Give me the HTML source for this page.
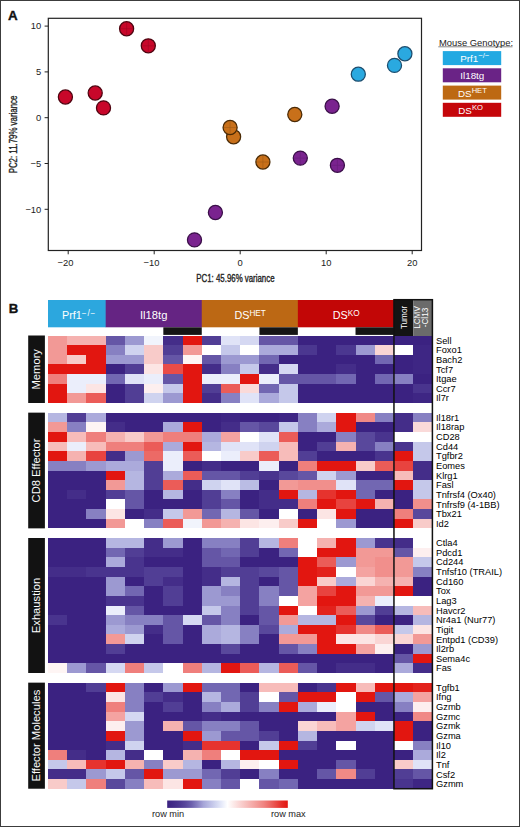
<!DOCTYPE html><html><head><meta charset="utf-8"><style>
html,body{margin:0;padding:0;background:#fff;}
svg{display:block;font-family:"Liberation Sans",sans-serif;}
</style></head><body>
<svg width="520" height="827" viewBox="0 0 520 827">
<rect x="0" y="0" width="520" height="827" fill="#fff"/>
<text x="8.1" y="19.7" font-size="13.4" font-weight="bold" fill="#111" stroke="#111" stroke-width="0.35">A</text>
<rect x="48.3" y="18.3" width="373.2" height="232.2" fill="none" stroke="#222" stroke-width="1.2"/>
<line x1="44.6" y1="26.10" x2="48.3" y2="26.10" stroke="#222" stroke-width="1"/>
<text x="41.3" y="29.40" font-size="9.4" text-anchor="end" fill="#222">10</text>
<line x1="44.6" y1="71.90" x2="48.3" y2="71.90" stroke="#222" stroke-width="1"/>
<text x="41.3" y="75.20" font-size="9.4" text-anchor="end" fill="#222">5</text>
<line x1="44.6" y1="117.70" x2="48.3" y2="117.70" stroke="#222" stroke-width="1"/>
<text x="41.3" y="121.00" font-size="9.4" text-anchor="end" fill="#222">0</text>
<line x1="44.6" y1="163.50" x2="48.3" y2="163.50" stroke="#222" stroke-width="1"/>
<text x="41.3" y="166.80" font-size="9.4" text-anchor="end" fill="#222">−5</text>
<line x1="44.6" y1="209.30" x2="48.3" y2="209.30" stroke="#222" stroke-width="1"/>
<text x="41.3" y="212.60" font-size="9.4" text-anchor="end" fill="#222">−10</text>
<line x1="68.20" y1="250.5" x2="68.20" y2="254.3" stroke="#222" stroke-width="1"/>
<text x="68.20" y="265.8" font-size="9.4" text-anchor="middle" fill="#222">20</text>
<text x="63.10" y="265.8" font-size="9.4" text-anchor="end" fill="#222">−</text>
<line x1="154.20" y1="250.5" x2="154.20" y2="254.3" stroke="#222" stroke-width="1"/>
<text x="154.20" y="265.8" font-size="9.4" text-anchor="middle" fill="#222">10</text>
<text x="149.10" y="265.8" font-size="9.4" text-anchor="end" fill="#222">−</text>
<line x1="240.20" y1="250.5" x2="240.20" y2="254.3" stroke="#222" stroke-width="1"/>
<text x="240.20" y="265.8" font-size="9.4" text-anchor="middle" fill="#222">0</text>
<line x1="326.20" y1="250.5" x2="326.20" y2="254.3" stroke="#222" stroke-width="1"/>
<text x="326.20" y="265.8" font-size="9.4" text-anchor="middle" fill="#222">10</text>
<line x1="412.20" y1="250.5" x2="412.20" y2="254.3" stroke="#222" stroke-width="1"/>
<text x="412.20" y="265.8" font-size="9.4" text-anchor="middle" fill="#222">20</text>
<text transform="translate(235.4,281.6) scale(0.75,1)" font-size="10.5" text-anchor="middle" fill="#222" stroke="#222" stroke-width="0.35">PC1: 45.96% variance</text>
<text transform="translate(16.9,134.5) rotate(-90) scale(0.75,1)" font-size="10.5" text-anchor="middle" fill="#222" stroke="#222" stroke-width="0.35">PC2: 11.79% variance</text>
<circle cx="404.9" cy="53.7" r="7.05" fill="#2aa9e0" stroke="#1c4d6e" stroke-width="1.25"/>
<circle cx="394.5" cy="65.4" r="7.05" fill="#2aa9e0" stroke="#1c4d6e" stroke-width="1.25"/>
<circle cx="358.3" cy="74.2" r="7.05" fill="#2aa9e0" stroke="#1c4d6e" stroke-width="1.25"/>
<circle cx="126.6" cy="28.7" r="7.05" fill="#c8072a" stroke="#4e0410" stroke-width="1.25"/>
<path d="M120.1 28.7H133.1M126.6 22.2V35.2" stroke="#4e0410" stroke-width="0.6" opacity="0.3"/>
<circle cx="148.3" cy="45.8" r="7.05" fill="#c8072a" stroke="#4e0410" stroke-width="1.25"/>
<path d="M141.8 45.8H154.8M148.3 39.3V52.3" stroke="#4e0410" stroke-width="0.6" opacity="0.3"/>
<circle cx="65.4" cy="97.0" r="7.05" fill="#c8072a" stroke="#4e0410" stroke-width="1.25"/>
<circle cx="95.2" cy="93.0" r="7.05" fill="#c8072a" stroke="#4e0410" stroke-width="1.25"/>
<circle cx="103.5" cy="107.9" r="7.05" fill="#c8072a" stroke="#4e0410" stroke-width="1.25"/>
<circle cx="294.8" cy="114.5" r="7.05" fill="#c8701a" stroke="#4a2a05" stroke-width="1.25"/>
<circle cx="233.6" cy="136.8" r="7.05" fill="#c8701a" stroke="#4a2a05" stroke-width="1.25"/>
<circle cx="230.1" cy="127.5" r="7.05" fill="#c8701a" stroke="#4a2a05" stroke-width="1.25"/>
<path d="M223.6 127.5H236.6M230.1 121.0V134.0" stroke="#4a2a05" stroke-width="0.6" opacity="0.3"/>
<circle cx="262.9" cy="162.0" r="7.05" fill="#c8701a" stroke="#4a2a05" stroke-width="1.25"/>
<path d="M256.4 162.0H269.4M262.9 155.5V168.5" stroke="#4a2a05" stroke-width="0.6" opacity="0.3"/>
<circle cx="332.1" cy="106.25" r="7.05" fill="#7a238f" stroke="#3a0f48" stroke-width="1.25"/>
<circle cx="300.3" cy="158.1" r="7.05" fill="#7a238f" stroke="#3a0f48" stroke-width="1.25"/>
<path d="M293.8 158.1H306.8M300.3 151.6V164.6" stroke="#3a0f48" stroke-width="0.6" opacity="0.3"/>
<circle cx="337.4" cy="165.3" r="7.05" fill="#7a238f" stroke="#3a0f48" stroke-width="1.25"/>
<path d="M330.9 165.3H343.9M337.4 158.8V171.8" stroke="#3a0f48" stroke-width="0.6" opacity="0.3"/>
<circle cx="215.4" cy="212.5" r="7.05" fill="#7a238f" stroke="#3a0f48" stroke-width="1.25"/>
<circle cx="194.5" cy="239.9" r="7.05" fill="#7a238f" stroke="#3a0f48" stroke-width="1.25"/>
<text x="439.0" y="45.6" font-size="9.4" fill="#222">Mouse Genotype:</text>
<line x1="438.3" y1="46.8" x2="512.5" y2="46.8" stroke="#333" stroke-width="0.6"/>
<rect x="442.8" y="51.1" width="58.4" height="14.0" fill="#22a9e2"/>
<text x="460.3" y="62.40" font-size="9.8" fill="#fff">Prf1<tspan font-size="7.6" dy="-4.0">−/−</tspan></text>
<rect x="442.8" y="68.3" width="58.4" height="14.0" fill="#6a2386"/>
<text x="460.3" y="79.30" font-size="9.8" fill="#fff">Il18tg</text>
<rect x="442.8" y="85.6" width="58.4" height="14.0" fill="#bd6913"/>
<text x="458.0" y="96.90" font-size="9.8" fill="#fff">DS<tspan font-size="7.6" dy="-4.0">HET</tspan></text>
<rect x="442.8" y="102.8" width="58.4" height="14.0" fill="#c5060a"/>
<text x="458.3" y="114.10" font-size="9.8" fill="#fff">DS<tspan font-size="7.6" dy="-4.0">KO</tspan></text>
<text x="8.7" y="312.5" font-size="13.2" font-weight="bold" fill="#111" stroke="#111" stroke-width="0.35">B</text>
<rect x="48.00" y="300" width="57.96" height="27.3" fill="#2ca7de"/>
<text x="79.03" y="319.4" font-size="10.8" text-anchor="middle" fill="#fff">Prf1<tspan font-size="8.2" dy="-3.6" letter-spacing="0.8">−/−</tspan></text>
<rect x="105.66" y="300" width="96.40" height="27.3" fill="#652483"/>
<text x="153.71" y="318.8" font-size="11.2" text-anchor="middle" fill="#fff">Il18tg</text>
<rect x="201.76" y="300" width="96.40" height="27.3" fill="#bc6814"/>
<text x="250.11" y="319.4" font-size="10.8" text-anchor="middle" fill="#fff">DS<tspan font-size="8.2" dy="-3.6" letter-spacing="0">HET</tspan></text>
<rect x="297.86" y="300" width="96.40" height="27.3" fill="#c20606"/>
<text x="346.21" y="319.4" font-size="10.8" text-anchor="middle" fill="#fff">DS<tspan font-size="8.2" dy="-3.6" letter-spacing="0">KO</tspan></text>
<rect x="163.32" y="327.3" width="38.44" height="7.6" fill="#151515"/>
<rect x="259.42" y="327.3" width="38.44" height="7.6" fill="#151515"/>
<rect x="355.52" y="327.3" width="38.44" height="7.6" fill="#151515"/>
<rect x="393.96" y="299.5" width="19.22" height="36.5" fill="#141414"/>
<rect x="413.18" y="299.5" width="19.22" height="36.5" fill="#6b6b6b"/>
<text transform="translate(406.97,317.5) rotate(-90) scale(0.85,1)" font-size="9.6" text-anchor="middle" fill="#fff">Tumor</text>
<text transform="translate(419.98,317.5) rotate(-90) scale(0.85,1)" font-size="9.6" text-anchor="middle" fill="#fff">LCMV</text>
<text transform="translate(428.48,317.5) rotate(-90) scale(0.85,1)" font-size="9.6" text-anchor="middle" fill="#fff">-Cl13</text>
<g shape-rendering="crispEdges">
<rect x="48.00" y="335.50" width="19.62" height="10.04" fill="#f29996"/>
<rect x="67.22" y="335.50" width="19.62" height="10.04" fill="#f5b2b0"/>
<rect x="86.44" y="335.50" width="19.62" height="10.04" fill="#f5b2b0"/>
<rect x="105.66" y="335.50" width="19.62" height="10.04" fill="#6556a6"/>
<rect x="124.88" y="335.50" width="19.62" height="10.04" fill="#9c99d1"/>
<rect x="144.10" y="335.50" width="19.62" height="10.04" fill="#f1f4fc"/>
<rect x="163.32" y="335.50" width="19.62" height="10.04" fill="#442d89"/>
<rect x="182.54" y="335.50" width="19.62" height="10.04" fill="#e21610"/>
<rect x="201.76" y="335.50" width="19.62" height="10.04" fill="#513e95"/>
<rect x="220.98" y="335.50" width="19.62" height="10.04" fill="#e0e3f7"/>
<rect x="240.20" y="335.50" width="19.62" height="10.04" fill="#d5d8f2"/>
<rect x="259.42" y="335.50" width="19.62" height="10.04" fill="#6556a6"/>
<rect x="278.64" y="335.50" width="19.62" height="10.04" fill="#6556a6"/>
<rect x="297.86" y="335.50" width="19.62" height="10.04" fill="#3b2281"/>
<rect x="317.08" y="335.50" width="19.62" height="10.04" fill="#3b2281"/>
<rect x="336.30" y="335.50" width="19.62" height="10.04" fill="#3b2281"/>
<rect x="355.52" y="335.50" width="19.62" height="10.04" fill="#3b2281"/>
<rect x="374.74" y="335.50" width="19.62" height="10.04" fill="#3b2281"/>
<rect x="393.96" y="335.50" width="19.62" height="10.04" fill="#3b2281"/>
<rect x="413.18" y="335.50" width="19.22" height="10.04" fill="#3b2281"/>
<rect x="48.00" y="345.14" width="19.62" height="10.04" fill="#f29996"/>
<rect x="67.22" y="345.14" width="19.62" height="10.04" fill="#e21610"/>
<rect x="86.44" y="345.14" width="19.62" height="10.04" fill="#e21610"/>
<rect x="105.66" y="345.14" width="19.62" height="10.04" fill="#8780c2"/>
<rect x="124.88" y="345.14" width="19.62" height="10.04" fill="#cfd3ef"/>
<rect x="144.10" y="345.14" width="19.62" height="10.04" fill="#f8cbc9"/>
<rect x="163.32" y="345.14" width="19.62" height="10.04" fill="#513e95"/>
<rect x="182.54" y="345.14" width="19.62" height="10.04" fill="#f29996"/>
<rect x="201.76" y="345.14" width="19.62" height="10.04" fill="#ffffff"/>
<rect x="220.98" y="345.14" width="19.62" height="10.04" fill="#c5c8ea"/>
<rect x="240.20" y="345.14" width="19.62" height="10.04" fill="#ffffff"/>
<rect x="259.42" y="345.14" width="19.62" height="10.04" fill="#abaadb"/>
<rect x="278.64" y="345.14" width="19.62" height="10.04" fill="#abaadb"/>
<rect x="297.86" y="345.14" width="19.62" height="10.04" fill="#4b3790"/>
<rect x="317.08" y="345.14" width="19.62" height="10.04" fill="#3b2281"/>
<rect x="336.30" y="345.14" width="19.62" height="10.04" fill="#4b3790"/>
<rect x="355.52" y="345.14" width="19.62" height="10.04" fill="#9c99d1"/>
<rect x="374.74" y="345.14" width="19.62" height="10.04" fill="#fad5d4"/>
<rect x="393.96" y="345.14" width="19.62" height="10.04" fill="#ffffff"/>
<rect x="413.18" y="345.14" width="19.22" height="10.04" fill="#3e2684"/>
<rect x="48.00" y="354.79" width="19.62" height="10.04" fill="#f29996"/>
<rect x="67.22" y="354.79" width="19.62" height="10.04" fill="#f8cbc9"/>
<rect x="86.44" y="354.79" width="19.62" height="10.04" fill="#e21610"/>
<rect x="105.66" y="354.79" width="19.62" height="10.04" fill="#9c99d1"/>
<rect x="124.88" y="354.79" width="19.62" height="10.04" fill="#9c99d1"/>
<rect x="144.10" y="354.79" width="19.62" height="10.04" fill="#f8cbc9"/>
<rect x="163.32" y="354.79" width="19.62" height="10.04" fill="#6556a6"/>
<rect x="182.54" y="354.79" width="19.62" height="10.04" fill="#fef5f4"/>
<rect x="201.76" y="354.79" width="19.62" height="10.04" fill="#6556a6"/>
<rect x="220.98" y="354.79" width="19.62" height="10.04" fill="#9c99d1"/>
<rect x="240.20" y="354.79" width="19.62" height="10.04" fill="#9c99d1"/>
<rect x="259.42" y="354.79" width="19.62" height="10.04" fill="#7267b2"/>
<rect x="278.64" y="354.79" width="19.62" height="10.04" fill="#3b2281"/>
<rect x="297.86" y="354.79" width="19.62" height="10.04" fill="#3b2281"/>
<rect x="317.08" y="354.79" width="19.62" height="10.04" fill="#3b2281"/>
<rect x="336.30" y="354.79" width="19.62" height="10.04" fill="#3b2281"/>
<rect x="355.52" y="354.79" width="19.62" height="10.04" fill="#3b2281"/>
<rect x="374.74" y="354.79" width="19.62" height="10.04" fill="#7267b2"/>
<rect x="393.96" y="354.79" width="19.62" height="10.04" fill="#3b2281"/>
<rect x="413.18" y="354.79" width="19.22" height="10.04" fill="#3e2684"/>
<rect x="48.00" y="364.43" width="19.62" height="10.04" fill="#e21610"/>
<rect x="67.22" y="364.43" width="19.62" height="10.04" fill="#e21610"/>
<rect x="86.44" y="364.43" width="19.62" height="10.04" fill="#e21610"/>
<rect x="105.66" y="364.43" width="19.62" height="10.04" fill="#3b2281"/>
<rect x="124.88" y="364.43" width="19.62" height="10.04" fill="#513e95"/>
<rect x="144.10" y="364.43" width="19.62" height="10.04" fill="#fce5e4"/>
<rect x="163.32" y="364.43" width="19.62" height="10.04" fill="#e94c47"/>
<rect x="182.54" y="364.43" width="19.62" height="10.04" fill="#e21610"/>
<rect x="201.76" y="364.43" width="19.62" height="10.04" fill="#442d89"/>
<rect x="220.98" y="364.43" width="19.62" height="10.04" fill="#8780c2"/>
<rect x="240.20" y="364.43" width="19.62" height="10.04" fill="#c5c8ea"/>
<rect x="259.42" y="364.43" width="19.62" height="10.04" fill="#442d89"/>
<rect x="278.64" y="364.43" width="19.62" height="10.04" fill="#d5d8f2"/>
<rect x="297.86" y="364.43" width="19.62" height="10.04" fill="#3b2281"/>
<rect x="317.08" y="364.43" width="19.62" height="10.04" fill="#3b2281"/>
<rect x="336.30" y="364.43" width="19.62" height="10.04" fill="#442d89"/>
<rect x="355.52" y="364.43" width="19.62" height="10.04" fill="#3b2281"/>
<rect x="374.74" y="364.43" width="19.62" height="10.04" fill="#3b2281"/>
<rect x="393.96" y="364.43" width="19.62" height="10.04" fill="#3b2281"/>
<rect x="413.18" y="364.43" width="19.22" height="10.04" fill="#3e2684"/>
<rect x="48.00" y="374.07" width="19.62" height="10.04" fill="#ef7f7c"/>
<rect x="67.22" y="374.07" width="19.62" height="10.04" fill="#ebeefb"/>
<rect x="86.44" y="374.07" width="19.62" height="10.04" fill="#ebeefb"/>
<rect x="105.66" y="374.07" width="19.62" height="10.04" fill="#7267b2"/>
<rect x="124.88" y="374.07" width="19.62" height="10.04" fill="#e0e3f7"/>
<rect x="144.10" y="374.07" width="19.62" height="10.04" fill="#ebeefb"/>
<rect x="163.32" y="374.07" width="19.62" height="10.04" fill="#6556a6"/>
<rect x="182.54" y="374.07" width="19.62" height="10.04" fill="#e21610"/>
<rect x="201.76" y="374.07" width="19.62" height="10.04" fill="#ebeefb"/>
<rect x="220.98" y="374.07" width="19.62" height="10.04" fill="#ebeefb"/>
<rect x="240.20" y="374.07" width="19.62" height="10.04" fill="#e21610"/>
<rect x="259.42" y="374.07" width="19.62" height="10.04" fill="#ebeefb"/>
<rect x="278.64" y="374.07" width="19.62" height="10.04" fill="#6556a6"/>
<rect x="297.86" y="374.07" width="19.62" height="10.04" fill="#6556a6"/>
<rect x="317.08" y="374.07" width="19.62" height="10.04" fill="#6556a6"/>
<rect x="336.30" y="374.07" width="19.62" height="10.04" fill="#7267b2"/>
<rect x="355.52" y="374.07" width="19.62" height="10.04" fill="#3b2281"/>
<rect x="374.74" y="374.07" width="19.62" height="10.04" fill="#7267b2"/>
<rect x="393.96" y="374.07" width="19.62" height="10.04" fill="#8780c2"/>
<rect x="413.18" y="374.07" width="19.22" height="10.04" fill="#3b2281"/>
<rect x="48.00" y="383.72" width="19.62" height="10.04" fill="#e21610"/>
<rect x="67.22" y="383.72" width="19.62" height="10.04" fill="#ebeefb"/>
<rect x="86.44" y="383.72" width="19.62" height="10.04" fill="#fce5e4"/>
<rect x="105.66" y="383.72" width="19.62" height="10.04" fill="#3b2281"/>
<rect x="124.88" y="383.72" width="19.62" height="10.04" fill="#513e95"/>
<rect x="144.10" y="383.72" width="19.62" height="10.04" fill="#fdefef"/>
<rect x="163.32" y="383.72" width="19.62" height="10.04" fill="#c5c8ea"/>
<rect x="182.54" y="383.72" width="19.62" height="10.04" fill="#e21610"/>
<rect x="201.76" y="383.72" width="19.62" height="10.04" fill="#513e95"/>
<rect x="220.98" y="383.72" width="19.62" height="10.04" fill="#eb5c58"/>
<rect x="240.20" y="383.72" width="19.62" height="10.04" fill="#fadad9"/>
<rect x="259.42" y="383.72" width="19.62" height="10.04" fill="#7267b2"/>
<rect x="278.64" y="383.72" width="19.62" height="10.04" fill="#c5c8ea"/>
<rect x="297.86" y="383.72" width="19.62" height="10.04" fill="#3b2281"/>
<rect x="317.08" y="383.72" width="19.62" height="10.04" fill="#3b2281"/>
<rect x="336.30" y="383.72" width="19.62" height="10.04" fill="#3b2281"/>
<rect x="355.52" y="383.72" width="19.62" height="10.04" fill="#3b2281"/>
<rect x="374.74" y="383.72" width="19.62" height="10.04" fill="#3b2281"/>
<rect x="393.96" y="383.72" width="19.62" height="10.04" fill="#3b2281"/>
<rect x="413.18" y="383.72" width="19.22" height="10.04" fill="#49348e"/>
<rect x="48.00" y="393.36" width="19.62" height="9.64" fill="#e21610"/>
<rect x="67.22" y="393.36" width="19.62" height="9.64" fill="#f29996"/>
<rect x="86.44" y="393.36" width="19.62" height="9.64" fill="#eb5c58"/>
<rect x="105.66" y="393.36" width="19.62" height="9.64" fill="#3b2281"/>
<rect x="124.88" y="393.36" width="19.62" height="9.64" fill="#513e95"/>
<rect x="144.10" y="393.36" width="19.62" height="9.64" fill="#cfd3ef"/>
<rect x="163.32" y="393.36" width="19.62" height="9.64" fill="#9c99d1"/>
<rect x="182.54" y="393.36" width="19.62" height="9.64" fill="#e21610"/>
<rect x="201.76" y="393.36" width="19.62" height="9.64" fill="#442d89"/>
<rect x="220.98" y="393.36" width="19.62" height="9.64" fill="#8780c2"/>
<rect x="240.20" y="393.36" width="19.62" height="9.64" fill="#e0e3f7"/>
<rect x="259.42" y="393.36" width="19.62" height="9.64" fill="#abaadb"/>
<rect x="278.64" y="393.36" width="19.62" height="9.64" fill="#c5c8ea"/>
<rect x="297.86" y="393.36" width="19.62" height="9.64" fill="#3b2281"/>
<rect x="317.08" y="393.36" width="19.62" height="9.64" fill="#3b2281"/>
<rect x="336.30" y="393.36" width="19.62" height="9.64" fill="#3b2281"/>
<rect x="355.52" y="393.36" width="19.62" height="9.64" fill="#3b2281"/>
<rect x="374.74" y="393.36" width="19.62" height="9.64" fill="#3b2281"/>
<rect x="393.96" y="393.36" width="19.62" height="9.64" fill="#3b2281"/>
<rect x="413.18" y="393.36" width="19.22" height="9.64" fill="#3e2684"/>
<rect x="48.00" y="412.64" width="19.62" height="10.04" fill="#b5b6e1"/>
<rect x="67.22" y="412.64" width="19.62" height="10.04" fill="#513e95"/>
<rect x="86.44" y="412.64" width="19.62" height="10.04" fill="#abaadb"/>
<rect x="105.66" y="412.64" width="19.62" height="10.04" fill="#3b2281"/>
<rect x="124.88" y="412.64" width="19.62" height="10.04" fill="#3b2281"/>
<rect x="144.10" y="412.64" width="19.62" height="10.04" fill="#3b2281"/>
<rect x="163.32" y="412.64" width="19.62" height="10.04" fill="#3b2281"/>
<rect x="182.54" y="412.64" width="19.62" height="10.04" fill="#3b2281"/>
<rect x="201.76" y="412.64" width="19.62" height="10.04" fill="#3b2281"/>
<rect x="220.98" y="412.64" width="19.62" height="10.04" fill="#3e2684"/>
<rect x="240.20" y="412.64" width="19.62" height="10.04" fill="#3b2281"/>
<rect x="259.42" y="412.64" width="19.62" height="10.04" fill="#3b2281"/>
<rect x="278.64" y="412.64" width="19.62" height="10.04" fill="#3e2684"/>
<rect x="297.86" y="412.64" width="19.62" height="10.04" fill="#8780c2"/>
<rect x="317.08" y="412.64" width="19.62" height="10.04" fill="#cfd3ef"/>
<rect x="336.30" y="412.64" width="19.62" height="10.04" fill="#e21610"/>
<rect x="355.52" y="412.64" width="19.62" height="10.04" fill="#f08986"/>
<rect x="374.74" y="412.64" width="19.62" height="10.04" fill="#8780c2"/>
<rect x="393.96" y="412.64" width="19.62" height="10.04" fill="#442d89"/>
<rect x="413.18" y="412.64" width="19.22" height="10.04" fill="#8780c2"/>
<rect x="48.00" y="422.29" width="19.62" height="10.04" fill="#f29996"/>
<rect x="67.22" y="422.29" width="19.62" height="10.04" fill="#8780c2"/>
<rect x="86.44" y="422.29" width="19.62" height="10.04" fill="#fef5f4"/>
<rect x="105.66" y="422.29" width="19.62" height="10.04" fill="#442d89"/>
<rect x="124.88" y="422.29" width="19.62" height="10.04" fill="#3b2281"/>
<rect x="144.10" y="422.29" width="19.62" height="10.04" fill="#3b2281"/>
<rect x="163.32" y="422.29" width="19.62" height="10.04" fill="#abaadb"/>
<rect x="182.54" y="422.29" width="19.62" height="10.04" fill="#e21610"/>
<rect x="201.76" y="422.29" width="19.62" height="10.04" fill="#3b2281"/>
<rect x="220.98" y="422.29" width="19.62" height="10.04" fill="#442d89"/>
<rect x="240.20" y="422.29" width="19.62" height="10.04" fill="#6556a6"/>
<rect x="259.42" y="422.29" width="19.62" height="10.04" fill="#59489c"/>
<rect x="278.64" y="422.29" width="19.62" height="10.04" fill="#c5c8ea"/>
<rect x="297.86" y="422.29" width="19.62" height="10.04" fill="#8780c2"/>
<rect x="317.08" y="422.29" width="19.62" height="10.04" fill="#abaadb"/>
<rect x="336.30" y="422.29" width="19.62" height="10.04" fill="#e21610"/>
<rect x="355.52" y="422.29" width="19.62" height="10.04" fill="#3b2281"/>
<rect x="374.74" y="422.29" width="19.62" height="10.04" fill="#3b2281"/>
<rect x="393.96" y="422.29" width="19.62" height="10.04" fill="#442d89"/>
<rect x="413.18" y="422.29" width="19.22" height="10.04" fill="#fadad9"/>
<rect x="48.00" y="431.93" width="19.62" height="10.04" fill="#e21610"/>
<rect x="67.22" y="431.93" width="19.62" height="10.04" fill="#f7bcba"/>
<rect x="86.44" y="431.93" width="19.62" height="10.04" fill="#ef7f7c"/>
<rect x="105.66" y="431.93" width="19.62" height="10.04" fill="#f5b2b0"/>
<rect x="124.88" y="431.93" width="19.62" height="10.04" fill="#f8cbc9"/>
<rect x="144.10" y="431.93" width="19.62" height="10.04" fill="#f29996"/>
<rect x="163.32" y="431.93" width="19.62" height="10.04" fill="#ef7f7c"/>
<rect x="182.54" y="431.93" width="19.62" height="10.04" fill="#ef7f7c"/>
<rect x="201.76" y="431.93" width="19.62" height="10.04" fill="#abaadb"/>
<rect x="220.98" y="431.93" width="19.62" height="10.04" fill="#f4a3a1"/>
<rect x="240.20" y="431.93" width="19.62" height="10.04" fill="#ffffff"/>
<rect x="259.42" y="431.93" width="19.62" height="10.04" fill="#e0e3f7"/>
<rect x="278.64" y="431.93" width="19.62" height="10.04" fill="#eb5c58"/>
<rect x="297.86" y="431.93" width="19.62" height="10.04" fill="#3b2281"/>
<rect x="317.08" y="431.93" width="19.62" height="10.04" fill="#3b2281"/>
<rect x="336.30" y="431.93" width="19.62" height="10.04" fill="#8780c2"/>
<rect x="355.52" y="431.93" width="19.62" height="10.04" fill="#59489c"/>
<rect x="374.74" y="431.93" width="19.62" height="10.04" fill="#49348e"/>
<rect x="393.96" y="431.93" width="19.62" height="10.04" fill="#ffffff"/>
<rect x="413.18" y="431.93" width="19.22" height="10.04" fill="#ffffff"/>
<rect x="48.00" y="441.57" width="19.62" height="10.04" fill="#f7bcba"/>
<rect x="67.22" y="441.57" width="19.62" height="10.04" fill="#ebeefb"/>
<rect x="86.44" y="441.57" width="19.62" height="10.04" fill="#f7bcba"/>
<rect x="105.66" y="441.57" width="19.62" height="10.04" fill="#ef7f7c"/>
<rect x="124.88" y="441.57" width="19.62" height="10.04" fill="#ef7f7c"/>
<rect x="144.10" y="441.57" width="19.62" height="10.04" fill="#eb5c58"/>
<rect x="163.32" y="441.57" width="19.62" height="10.04" fill="#abaadb"/>
<rect x="182.54" y="441.57" width="19.62" height="10.04" fill="#e21610"/>
<rect x="201.76" y="441.57" width="19.62" height="10.04" fill="#b5b6e1"/>
<rect x="220.98" y="441.57" width="19.62" height="10.04" fill="#e0e3f7"/>
<rect x="240.20" y="441.57" width="19.62" height="10.04" fill="#e0e3f7"/>
<rect x="259.42" y="441.57" width="19.62" height="10.04" fill="#cfd3ef"/>
<rect x="278.64" y="441.57" width="19.62" height="10.04" fill="#f7bcba"/>
<rect x="297.86" y="441.57" width="19.62" height="10.04" fill="#3b2281"/>
<rect x="317.08" y="441.57" width="19.62" height="10.04" fill="#513e95"/>
<rect x="336.30" y="441.57" width="19.62" height="10.04" fill="#f5b2b0"/>
<rect x="355.52" y="441.57" width="19.62" height="10.04" fill="#59489c"/>
<rect x="374.74" y="441.57" width="19.62" height="10.04" fill="#8780c2"/>
<rect x="393.96" y="441.57" width="19.62" height="10.04" fill="#49348e"/>
<rect x="413.18" y="441.57" width="19.22" height="10.04" fill="#c5c8ea"/>
<rect x="48.00" y="451.22" width="19.62" height="10.04" fill="#e21610"/>
<rect x="67.22" y="451.22" width="19.62" height="10.04" fill="#f5b2b0"/>
<rect x="86.44" y="451.22" width="19.62" height="10.04" fill="#e8433f"/>
<rect x="105.66" y="451.22" width="19.62" height="10.04" fill="#442d89"/>
<rect x="124.88" y="451.22" width="19.62" height="10.04" fill="#9c99d1"/>
<rect x="144.10" y="451.22" width="19.62" height="10.04" fill="#ec6a66"/>
<rect x="163.32" y="451.22" width="19.62" height="10.04" fill="#ebeefb"/>
<rect x="182.54" y="451.22" width="19.62" height="10.04" fill="#eb5c58"/>
<rect x="201.76" y="451.22" width="19.62" height="10.04" fill="#ffffff"/>
<rect x="220.98" y="451.22" width="19.62" height="10.04" fill="#ebeefb"/>
<rect x="240.20" y="451.22" width="19.62" height="10.04" fill="#f8cbc9"/>
<rect x="259.42" y="451.22" width="19.62" height="10.04" fill="#eb5c58"/>
<rect x="278.64" y="451.22" width="19.62" height="10.04" fill="#f7bcba"/>
<rect x="297.86" y="451.22" width="19.62" height="10.04" fill="#513e95"/>
<rect x="317.08" y="451.22" width="19.62" height="10.04" fill="#3b2281"/>
<rect x="336.30" y="451.22" width="19.62" height="10.04" fill="#3b2281"/>
<rect x="355.52" y="451.22" width="19.62" height="10.04" fill="#3b2281"/>
<rect x="374.74" y="451.22" width="19.62" height="10.04" fill="#49348e"/>
<rect x="393.96" y="451.22" width="19.62" height="10.04" fill="#e21610"/>
<rect x="413.18" y="451.22" width="19.22" height="10.04" fill="#c5c8ea"/>
<rect x="48.00" y="460.86" width="19.62" height="10.04" fill="#8780c2"/>
<rect x="67.22" y="460.86" width="19.62" height="10.04" fill="#8780c2"/>
<rect x="86.44" y="460.86" width="19.62" height="10.04" fill="#9c99d1"/>
<rect x="105.66" y="460.86" width="19.62" height="10.04" fill="#abaadb"/>
<rect x="124.88" y="460.86" width="19.62" height="10.04" fill="#abaadb"/>
<rect x="144.10" y="460.86" width="19.62" height="10.04" fill="#513e95"/>
<rect x="163.32" y="460.86" width="19.62" height="10.04" fill="#ebeefb"/>
<rect x="182.54" y="460.86" width="19.62" height="10.04" fill="#3b2281"/>
<rect x="201.76" y="460.86" width="19.62" height="10.04" fill="#442d89"/>
<rect x="220.98" y="460.86" width="19.62" height="10.04" fill="#3b2281"/>
<rect x="240.20" y="460.86" width="19.62" height="10.04" fill="#3b2281"/>
<rect x="259.42" y="460.86" width="19.62" height="10.04" fill="#ebeefb"/>
<rect x="278.64" y="460.86" width="19.62" height="10.04" fill="#3b2281"/>
<rect x="297.86" y="460.86" width="19.62" height="10.04" fill="#ef7f7c"/>
<rect x="317.08" y="460.86" width="19.62" height="10.04" fill="#e21610"/>
<rect x="336.30" y="460.86" width="19.62" height="10.04" fill="#e21610"/>
<rect x="355.52" y="460.86" width="19.62" height="10.04" fill="#f8cbc9"/>
<rect x="374.74" y="460.86" width="19.62" height="10.04" fill="#eb5c58"/>
<rect x="393.96" y="460.86" width="19.62" height="10.04" fill="#e8433f"/>
<rect x="413.18" y="460.86" width="19.22" height="10.04" fill="#442d89"/>
<rect x="48.00" y="470.50" width="19.62" height="10.04" fill="#3b2281"/>
<rect x="67.22" y="470.50" width="19.62" height="10.04" fill="#3b2281"/>
<rect x="86.44" y="470.50" width="19.62" height="10.04" fill="#3b2281"/>
<rect x="105.66" y="470.50" width="19.62" height="10.04" fill="#e21610"/>
<rect x="124.88" y="470.50" width="19.62" height="10.04" fill="#b5b6e1"/>
<rect x="144.10" y="470.50" width="19.62" height="10.04" fill="#513e95"/>
<rect x="163.32" y="470.50" width="19.62" height="10.04" fill="#abaadb"/>
<rect x="182.54" y="470.50" width="19.62" height="10.04" fill="#eb5c58"/>
<rect x="201.76" y="470.50" width="19.62" height="10.04" fill="#6556a6"/>
<rect x="220.98" y="470.50" width="19.62" height="10.04" fill="#6556a6"/>
<rect x="240.20" y="470.50" width="19.62" height="10.04" fill="#513e95"/>
<rect x="259.42" y="470.50" width="19.62" height="10.04" fill="#49348e"/>
<rect x="278.64" y="470.50" width="19.62" height="10.04" fill="#59489c"/>
<rect x="297.86" y="470.50" width="19.62" height="10.04" fill="#6556a6"/>
<rect x="317.08" y="470.50" width="19.62" height="10.04" fill="#cfd3ef"/>
<rect x="336.30" y="470.50" width="19.62" height="10.04" fill="#9c99d1"/>
<rect x="355.52" y="470.50" width="19.62" height="10.04" fill="#3b2281"/>
<rect x="374.74" y="470.50" width="19.62" height="10.04" fill="#3b2281"/>
<rect x="393.96" y="470.50" width="19.62" height="10.04" fill="#f7bcba"/>
<rect x="413.18" y="470.50" width="19.22" height="10.04" fill="#442d89"/>
<rect x="48.00" y="480.14" width="19.62" height="10.04" fill="#3b2281"/>
<rect x="67.22" y="480.14" width="19.62" height="10.04" fill="#3b2281"/>
<rect x="86.44" y="480.14" width="19.62" height="10.04" fill="#3b2281"/>
<rect x="105.66" y="480.14" width="19.62" height="10.04" fill="#f29996"/>
<rect x="124.88" y="480.14" width="19.62" height="10.04" fill="#b5b6e1"/>
<rect x="144.10" y="480.14" width="19.62" height="10.04" fill="#513e95"/>
<rect x="163.32" y="480.14" width="19.62" height="10.04" fill="#eb5c58"/>
<rect x="182.54" y="480.14" width="19.62" height="10.04" fill="#442d89"/>
<rect x="201.76" y="480.14" width="19.62" height="10.04" fill="#cfd3ef"/>
<rect x="220.98" y="480.14" width="19.62" height="10.04" fill="#e0e3f7"/>
<rect x="240.20" y="480.14" width="19.62" height="10.04" fill="#babce4"/>
<rect x="259.42" y="480.14" width="19.62" height="10.04" fill="#3b2281"/>
<rect x="278.64" y="480.14" width="19.62" height="10.04" fill="#f29996"/>
<rect x="297.86" y="480.14" width="19.62" height="10.04" fill="#f18f8c"/>
<rect x="317.08" y="480.14" width="19.62" height="10.04" fill="#f18f8c"/>
<rect x="336.30" y="480.14" width="19.62" height="10.04" fill="#e0e3f7"/>
<rect x="355.52" y="480.14" width="19.62" height="10.04" fill="#7267b2"/>
<rect x="374.74" y="480.14" width="19.62" height="10.04" fill="#7267b2"/>
<rect x="393.96" y="480.14" width="19.62" height="10.04" fill="#e21610"/>
<rect x="413.18" y="480.14" width="19.22" height="10.04" fill="#c5c8ea"/>
<rect x="48.00" y="489.79" width="19.62" height="10.04" fill="#3b2281"/>
<rect x="67.22" y="489.79" width="19.62" height="10.04" fill="#442d89"/>
<rect x="86.44" y="489.79" width="19.62" height="10.04" fill="#3b2281"/>
<rect x="105.66" y="489.79" width="19.62" height="10.04" fill="#513e95"/>
<rect x="124.88" y="489.79" width="19.62" height="10.04" fill="#6556a6"/>
<rect x="144.10" y="489.79" width="19.62" height="10.04" fill="#3b2281"/>
<rect x="163.32" y="489.79" width="19.62" height="10.04" fill="#b5b6e1"/>
<rect x="182.54" y="489.79" width="19.62" height="10.04" fill="#3b2281"/>
<rect x="201.76" y="489.79" width="19.62" height="10.04" fill="#513e95"/>
<rect x="220.98" y="489.79" width="19.62" height="10.04" fill="#8780c2"/>
<rect x="240.20" y="489.79" width="19.62" height="10.04" fill="#3b2281"/>
<rect x="259.42" y="489.79" width="19.62" height="10.04" fill="#442d89"/>
<rect x="278.64" y="489.79" width="19.62" height="10.04" fill="#e21610"/>
<rect x="297.86" y="489.79" width="19.62" height="10.04" fill="#b5b6e1"/>
<rect x="317.08" y="489.79" width="19.62" height="10.04" fill="#e6332e"/>
<rect x="336.30" y="489.79" width="19.62" height="10.04" fill="#e21610"/>
<rect x="355.52" y="489.79" width="19.62" height="10.04" fill="#7267b2"/>
<rect x="374.74" y="489.79" width="19.62" height="10.04" fill="#3b2281"/>
<rect x="393.96" y="489.79" width="19.62" height="10.04" fill="#3b2281"/>
<rect x="413.18" y="489.79" width="19.22" height="10.04" fill="#c5c8ea"/>
<rect x="48.00" y="499.43" width="19.62" height="10.04" fill="#3b2281"/>
<rect x="67.22" y="499.43" width="19.62" height="10.04" fill="#3b2281"/>
<rect x="86.44" y="499.43" width="19.62" height="10.04" fill="#3b2281"/>
<rect x="105.66" y="499.43" width="19.62" height="10.04" fill="#ffffff"/>
<rect x="124.88" y="499.43" width="19.62" height="10.04" fill="#6556a6"/>
<rect x="144.10" y="499.43" width="19.62" height="10.04" fill="#3b2281"/>
<rect x="163.32" y="499.43" width="19.62" height="10.04" fill="#3b2281"/>
<rect x="182.54" y="499.43" width="19.62" height="10.04" fill="#3b2281"/>
<rect x="201.76" y="499.43" width="19.62" height="10.04" fill="#513e95"/>
<rect x="220.98" y="499.43" width="19.62" height="10.04" fill="#6556a6"/>
<rect x="240.20" y="499.43" width="19.62" height="10.04" fill="#3b2281"/>
<rect x="259.42" y="499.43" width="19.62" height="10.04" fill="#442d89"/>
<rect x="278.64" y="499.43" width="19.62" height="10.04" fill="#442d89"/>
<rect x="297.86" y="499.43" width="19.62" height="10.04" fill="#ef7f7c"/>
<rect x="317.08" y="499.43" width="19.62" height="10.04" fill="#e21610"/>
<rect x="336.30" y="499.43" width="19.62" height="10.04" fill="#e8433f"/>
<rect x="355.52" y="499.43" width="19.62" height="10.04" fill="#e21610"/>
<rect x="374.74" y="499.43" width="19.62" height="10.04" fill="#f5b2b0"/>
<rect x="393.96" y="499.43" width="19.62" height="10.04" fill="#3b2281"/>
<rect x="413.18" y="499.43" width="19.22" height="10.04" fill="#f18f8c"/>
<rect x="48.00" y="509.07" width="19.62" height="10.04" fill="#3b2281"/>
<rect x="67.22" y="509.07" width="19.62" height="10.04" fill="#3b2281"/>
<rect x="86.44" y="509.07" width="19.62" height="10.04" fill="#8780c2"/>
<rect x="105.66" y="509.07" width="19.62" height="10.04" fill="#fce5e4"/>
<rect x="124.88" y="509.07" width="19.62" height="10.04" fill="#3b2281"/>
<rect x="144.10" y="509.07" width="19.62" height="10.04" fill="#442d89"/>
<rect x="163.32" y="509.07" width="19.62" height="10.04" fill="#c5c8ea"/>
<rect x="182.54" y="509.07" width="19.62" height="10.04" fill="#f29996"/>
<rect x="201.76" y="509.07" width="19.62" height="10.04" fill="#7267b2"/>
<rect x="220.98" y="509.07" width="19.62" height="10.04" fill="#b5b6e1"/>
<rect x="240.20" y="509.07" width="19.62" height="10.04" fill="#6556a6"/>
<rect x="259.42" y="509.07" width="19.62" height="10.04" fill="#3b2281"/>
<rect x="278.64" y="509.07" width="19.62" height="10.04" fill="#ffffff"/>
<rect x="297.86" y="509.07" width="19.62" height="10.04" fill="#3b2281"/>
<rect x="317.08" y="509.07" width="19.62" height="10.04" fill="#fce5e4"/>
<rect x="336.30" y="509.07" width="19.62" height="10.04" fill="#e21610"/>
<rect x="355.52" y="509.07" width="19.62" height="10.04" fill="#3b2281"/>
<rect x="374.74" y="509.07" width="19.62" height="10.04" fill="#3b2281"/>
<rect x="393.96" y="509.07" width="19.62" height="10.04" fill="#ef7f7c"/>
<rect x="413.18" y="509.07" width="19.22" height="10.04" fill="#59489c"/>
<rect x="48.00" y="518.72" width="19.62" height="9.64" fill="#3b2281"/>
<rect x="67.22" y="518.72" width="19.62" height="9.64" fill="#3b2281"/>
<rect x="86.44" y="518.72" width="19.62" height="9.64" fill="#3b2281"/>
<rect x="105.66" y="518.72" width="19.62" height="9.64" fill="#f29996"/>
<rect x="124.88" y="518.72" width="19.62" height="9.64" fill="#ffffff"/>
<rect x="144.10" y="518.72" width="19.62" height="9.64" fill="#8780c2"/>
<rect x="163.32" y="518.72" width="19.62" height="9.64" fill="#eb5c58"/>
<rect x="182.54" y="518.72" width="19.62" height="9.64" fill="#f1f4fc"/>
<rect x="201.76" y="518.72" width="19.62" height="9.64" fill="#f29996"/>
<rect x="220.98" y="518.72" width="19.62" height="9.64" fill="#f5b2b0"/>
<rect x="240.20" y="518.72" width="19.62" height="9.64" fill="#fce5e4"/>
<rect x="259.42" y="518.72" width="19.62" height="9.64" fill="#fdefef"/>
<rect x="278.64" y="518.72" width="19.62" height="9.64" fill="#f8cbc9"/>
<rect x="297.86" y="518.72" width="19.62" height="9.64" fill="#e21610"/>
<rect x="317.08" y="518.72" width="19.62" height="9.64" fill="#ffffff"/>
<rect x="336.30" y="518.72" width="19.62" height="9.64" fill="#9c99d1"/>
<rect x="355.52" y="518.72" width="19.62" height="9.64" fill="#3b2281"/>
<rect x="374.74" y="518.72" width="19.62" height="9.64" fill="#3b2281"/>
<rect x="393.96" y="518.72" width="19.62" height="9.64" fill="#e21610"/>
<rect x="413.18" y="518.72" width="19.22" height="9.64" fill="#f8cbc9"/>
<rect x="48.00" y="538.00" width="19.62" height="10.04" fill="#3b2281"/>
<rect x="67.22" y="538.00" width="19.62" height="10.04" fill="#3b2281"/>
<rect x="86.44" y="538.00" width="19.62" height="10.04" fill="#3b2281"/>
<rect x="105.66" y="538.00" width="19.62" height="10.04" fill="#b5b6e1"/>
<rect x="124.88" y="538.00" width="19.62" height="10.04" fill="#b5b6e1"/>
<rect x="144.10" y="538.00" width="19.62" height="10.04" fill="#442d89"/>
<rect x="163.32" y="538.00" width="19.62" height="10.04" fill="#9c99d1"/>
<rect x="182.54" y="538.00" width="19.62" height="10.04" fill="#3b2281"/>
<rect x="201.76" y="538.00" width="19.62" height="10.04" fill="#8780c2"/>
<rect x="220.98" y="538.00" width="19.62" height="10.04" fill="#8780c2"/>
<rect x="240.20" y="538.00" width="19.62" height="10.04" fill="#513e95"/>
<rect x="259.42" y="538.00" width="19.62" height="10.04" fill="#b5b6e1"/>
<rect x="278.64" y="538.00" width="19.62" height="10.04" fill="#ef7f7c"/>
<rect x="297.86" y="538.00" width="19.62" height="10.04" fill="#ffffff"/>
<rect x="317.08" y="538.00" width="19.62" height="10.04" fill="#f5b2b0"/>
<rect x="336.30" y="538.00" width="19.62" height="10.04" fill="#e21610"/>
<rect x="355.52" y="538.00" width="19.62" height="10.04" fill="#9c99d1"/>
<rect x="374.74" y="538.00" width="19.62" height="10.04" fill="#49348e"/>
<rect x="393.96" y="538.00" width="19.62" height="10.04" fill="#442d89"/>
<rect x="413.18" y="538.00" width="19.22" height="10.04" fill="#ffffff"/>
<rect x="48.00" y="547.65" width="19.62" height="10.04" fill="#3b2281"/>
<rect x="67.22" y="547.65" width="19.62" height="10.04" fill="#3b2281"/>
<rect x="86.44" y="547.65" width="19.62" height="10.04" fill="#3b2281"/>
<rect x="105.66" y="547.65" width="19.62" height="10.04" fill="#7267b2"/>
<rect x="124.88" y="547.65" width="19.62" height="10.04" fill="#513e95"/>
<rect x="144.10" y="547.65" width="19.62" height="10.04" fill="#442d89"/>
<rect x="163.32" y="547.65" width="19.62" height="10.04" fill="#442d89"/>
<rect x="182.54" y="547.65" width="19.62" height="10.04" fill="#3b2281"/>
<rect x="201.76" y="547.65" width="19.62" height="10.04" fill="#6556a6"/>
<rect x="220.98" y="547.65" width="19.62" height="10.04" fill="#7267b2"/>
<rect x="240.20" y="547.65" width="19.62" height="10.04" fill="#513e95"/>
<rect x="259.42" y="547.65" width="19.62" height="10.04" fill="#3b2281"/>
<rect x="278.64" y="547.65" width="19.62" height="10.04" fill="#7267b2"/>
<rect x="297.86" y="547.65" width="19.62" height="10.04" fill="#ffffff"/>
<rect x="317.08" y="547.65" width="19.62" height="10.04" fill="#e21610"/>
<rect x="336.30" y="547.65" width="19.62" height="10.04" fill="#e21610"/>
<rect x="355.52" y="547.65" width="19.62" height="10.04" fill="#f29996"/>
<rect x="374.74" y="547.65" width="19.62" height="10.04" fill="#f29996"/>
<rect x="393.96" y="547.65" width="19.62" height="10.04" fill="#6556a6"/>
<rect x="413.18" y="547.65" width="19.22" height="10.04" fill="#fdefef"/>
<rect x="48.00" y="557.29" width="19.62" height="10.04" fill="#3b2281"/>
<rect x="67.22" y="557.29" width="19.62" height="10.04" fill="#3b2281"/>
<rect x="86.44" y="557.29" width="19.62" height="10.04" fill="#3b2281"/>
<rect x="105.66" y="557.29" width="19.62" height="10.04" fill="#abaadb"/>
<rect x="124.88" y="557.29" width="19.62" height="10.04" fill="#49348e"/>
<rect x="144.10" y="557.29" width="19.62" height="10.04" fill="#3b2281"/>
<rect x="163.32" y="557.29" width="19.62" height="10.04" fill="#3b2281"/>
<rect x="182.54" y="557.29" width="19.62" height="10.04" fill="#3b2281"/>
<rect x="201.76" y="557.29" width="19.62" height="10.04" fill="#6556a6"/>
<rect x="220.98" y="557.29" width="19.62" height="10.04" fill="#6556a6"/>
<rect x="240.20" y="557.29" width="19.62" height="10.04" fill="#3b2281"/>
<rect x="259.42" y="557.29" width="19.62" height="10.04" fill="#3b2281"/>
<rect x="278.64" y="557.29" width="19.62" height="10.04" fill="#3b2281"/>
<rect x="297.86" y="557.29" width="19.62" height="10.04" fill="#e21610"/>
<rect x="317.08" y="557.29" width="19.62" height="10.04" fill="#eb5c58"/>
<rect x="336.30" y="557.29" width="19.62" height="10.04" fill="#9c99d1"/>
<rect x="355.52" y="557.29" width="19.62" height="10.04" fill="#f29996"/>
<rect x="374.74" y="557.29" width="19.62" height="10.04" fill="#f18f8c"/>
<rect x="393.96" y="557.29" width="19.62" height="10.04" fill="#f29996"/>
<rect x="413.18" y="557.29" width="19.22" height="10.04" fill="#c5c8ea"/>
<rect x="48.00" y="566.93" width="19.62" height="10.04" fill="#442d89"/>
<rect x="67.22" y="566.93" width="19.62" height="10.04" fill="#442d89"/>
<rect x="86.44" y="566.93" width="19.62" height="10.04" fill="#49348e"/>
<rect x="105.66" y="566.93" width="19.62" height="10.04" fill="#49348e"/>
<rect x="124.88" y="566.93" width="19.62" height="10.04" fill="#49348e"/>
<rect x="144.10" y="566.93" width="19.62" height="10.04" fill="#513e95"/>
<rect x="163.32" y="566.93" width="19.62" height="10.04" fill="#513e95"/>
<rect x="182.54" y="566.93" width="19.62" height="10.04" fill="#3b2281"/>
<rect x="201.76" y="566.93" width="19.62" height="10.04" fill="#442d89"/>
<rect x="220.98" y="566.93" width="19.62" height="10.04" fill="#513e95"/>
<rect x="240.20" y="566.93" width="19.62" height="10.04" fill="#513e95"/>
<rect x="259.42" y="566.93" width="19.62" height="10.04" fill="#59489c"/>
<rect x="278.64" y="566.93" width="19.62" height="10.04" fill="#6556a6"/>
<rect x="297.86" y="566.93" width="19.62" height="10.04" fill="#e21610"/>
<rect x="317.08" y="566.93" width="19.62" height="10.04" fill="#e3221c"/>
<rect x="336.30" y="566.93" width="19.62" height="10.04" fill="#ffffff"/>
<rect x="355.52" y="566.93" width="19.62" height="10.04" fill="#f4a3a1"/>
<rect x="374.74" y="566.93" width="19.62" height="10.04" fill="#f18f8c"/>
<rect x="393.96" y="566.93" width="19.62" height="10.04" fill="#f29996"/>
<rect x="413.18" y="566.93" width="19.22" height="10.04" fill="#8780c2"/>
<rect x="48.00" y="576.58" width="19.62" height="10.04" fill="#3b2281"/>
<rect x="67.22" y="576.58" width="19.62" height="10.04" fill="#3b2281"/>
<rect x="86.44" y="576.58" width="19.62" height="10.04" fill="#3b2281"/>
<rect x="105.66" y="576.58" width="19.62" height="10.04" fill="#9c99d1"/>
<rect x="124.88" y="576.58" width="19.62" height="10.04" fill="#3b2281"/>
<rect x="144.10" y="576.58" width="19.62" height="10.04" fill="#513e95"/>
<rect x="163.32" y="576.58" width="19.62" height="10.04" fill="#442d89"/>
<rect x="182.54" y="576.58" width="19.62" height="10.04" fill="#3b2281"/>
<rect x="201.76" y="576.58" width="19.62" height="10.04" fill="#442d89"/>
<rect x="220.98" y="576.58" width="19.62" height="10.04" fill="#b5b6e1"/>
<rect x="240.20" y="576.58" width="19.62" height="10.04" fill="#513e95"/>
<rect x="259.42" y="576.58" width="19.62" height="10.04" fill="#3b2281"/>
<rect x="278.64" y="576.58" width="19.62" height="10.04" fill="#6556a6"/>
<rect x="297.86" y="576.58" width="19.62" height="10.04" fill="#e21610"/>
<rect x="317.08" y="576.58" width="19.62" height="10.04" fill="#f8cbc9"/>
<rect x="336.30" y="576.58" width="19.62" height="10.04" fill="#abaadb"/>
<rect x="355.52" y="576.58" width="19.62" height="10.04" fill="#fad5d4"/>
<rect x="374.74" y="576.58" width="19.62" height="10.04" fill="#f5b2b0"/>
<rect x="393.96" y="576.58" width="19.62" height="10.04" fill="#f5b2b0"/>
<rect x="413.18" y="576.58" width="19.22" height="10.04" fill="#3b2281"/>
<rect x="48.00" y="586.22" width="19.62" height="10.04" fill="#3b2281"/>
<rect x="67.22" y="586.22" width="19.62" height="10.04" fill="#3b2281"/>
<rect x="86.44" y="586.22" width="19.62" height="10.04" fill="#3b2281"/>
<rect x="105.66" y="586.22" width="19.62" height="10.04" fill="#9c99d1"/>
<rect x="124.88" y="586.22" width="19.62" height="10.04" fill="#7267b2"/>
<rect x="144.10" y="586.22" width="19.62" height="10.04" fill="#3b2281"/>
<rect x="163.32" y="586.22" width="19.62" height="10.04" fill="#513e95"/>
<rect x="182.54" y="586.22" width="19.62" height="10.04" fill="#3b2281"/>
<rect x="201.76" y="586.22" width="19.62" height="10.04" fill="#9c99d1"/>
<rect x="220.98" y="586.22" width="19.62" height="10.04" fill="#8780c2"/>
<rect x="240.20" y="586.22" width="19.62" height="10.04" fill="#513e95"/>
<rect x="259.42" y="586.22" width="19.62" height="10.04" fill="#8780c2"/>
<rect x="278.64" y="586.22" width="19.62" height="10.04" fill="#6556a6"/>
<rect x="297.86" y="586.22" width="19.62" height="10.04" fill="#f4a3a1"/>
<rect x="317.08" y="586.22" width="19.62" height="10.04" fill="#e8433f"/>
<rect x="336.30" y="586.22" width="19.62" height="10.04" fill="#e21610"/>
<rect x="355.52" y="586.22" width="19.62" height="10.04" fill="#f29996"/>
<rect x="374.74" y="586.22" width="19.62" height="10.04" fill="#f29996"/>
<rect x="393.96" y="586.22" width="19.62" height="10.04" fill="#e21610"/>
<rect x="413.18" y="586.22" width="19.22" height="10.04" fill="#3b2281"/>
<rect x="48.00" y="595.86" width="19.62" height="10.04" fill="#3b2281"/>
<rect x="67.22" y="595.86" width="19.62" height="10.04" fill="#3b2281"/>
<rect x="86.44" y="595.86" width="19.62" height="10.04" fill="#3b2281"/>
<rect x="105.66" y="595.86" width="19.62" height="10.04" fill="#49348e"/>
<rect x="124.88" y="595.86" width="19.62" height="10.04" fill="#49348e"/>
<rect x="144.10" y="595.86" width="19.62" height="10.04" fill="#3b2281"/>
<rect x="163.32" y="595.86" width="19.62" height="10.04" fill="#513e95"/>
<rect x="182.54" y="595.86" width="19.62" height="10.04" fill="#3b2281"/>
<rect x="201.76" y="595.86" width="19.62" height="10.04" fill="#9c99d1"/>
<rect x="220.98" y="595.86" width="19.62" height="10.04" fill="#9c99d1"/>
<rect x="240.20" y="595.86" width="19.62" height="10.04" fill="#513e95"/>
<rect x="259.42" y="595.86" width="19.62" height="10.04" fill="#8780c2"/>
<rect x="278.64" y="595.86" width="19.62" height="10.04" fill="#ffffff"/>
<rect x="297.86" y="595.86" width="19.62" height="10.04" fill="#f4a3a1"/>
<rect x="317.08" y="595.86" width="19.62" height="10.04" fill="#e21610"/>
<rect x="336.30" y="595.86" width="19.62" height="10.04" fill="#e21610"/>
<rect x="355.52" y="595.86" width="19.62" height="10.04" fill="#f5b2b0"/>
<rect x="374.74" y="595.86" width="19.62" height="10.04" fill="#ebeefb"/>
<rect x="393.96" y="595.86" width="19.62" height="10.04" fill="#ffffff"/>
<rect x="413.18" y="595.86" width="19.22" height="10.04" fill="#ffffff"/>
<rect x="48.00" y="605.50" width="19.62" height="10.04" fill="#3b2281"/>
<rect x="67.22" y="605.50" width="19.62" height="10.04" fill="#3b2281"/>
<rect x="86.44" y="605.50" width="19.62" height="10.04" fill="#3b2281"/>
<rect x="105.66" y="605.50" width="19.62" height="10.04" fill="#ebeefb"/>
<rect x="124.88" y="605.50" width="19.62" height="10.04" fill="#6556a6"/>
<rect x="144.10" y="605.50" width="19.62" height="10.04" fill="#3b2281"/>
<rect x="163.32" y="605.50" width="19.62" height="10.04" fill="#3b2281"/>
<rect x="182.54" y="605.50" width="19.62" height="10.04" fill="#3b2281"/>
<rect x="201.76" y="605.50" width="19.62" height="10.04" fill="#c5c8ea"/>
<rect x="220.98" y="605.50" width="19.62" height="10.04" fill="#8780c2"/>
<rect x="240.20" y="605.50" width="19.62" height="10.04" fill="#513e95"/>
<rect x="259.42" y="605.50" width="19.62" height="10.04" fill="#6556a6"/>
<rect x="278.64" y="605.50" width="19.62" height="10.04" fill="#e21610"/>
<rect x="297.86" y="605.50" width="19.62" height="10.04" fill="#ffffff"/>
<rect x="317.08" y="605.50" width="19.62" height="10.04" fill="#e3221c"/>
<rect x="336.30" y="605.50" width="19.62" height="10.04" fill="#eb5c58"/>
<rect x="355.52" y="605.50" width="19.62" height="10.04" fill="#9c99d1"/>
<rect x="374.74" y="605.50" width="19.62" height="10.04" fill="#513e95"/>
<rect x="393.96" y="605.50" width="19.62" height="10.04" fill="#b5b6e1"/>
<rect x="413.18" y="605.50" width="19.22" height="10.04" fill="#f7bcba"/>
<rect x="48.00" y="615.15" width="19.62" height="10.04" fill="#49348e"/>
<rect x="67.22" y="615.15" width="19.62" height="10.04" fill="#3b2281"/>
<rect x="86.44" y="615.15" width="19.62" height="10.04" fill="#3b2281"/>
<rect x="105.66" y="615.15" width="19.62" height="10.04" fill="#9c99d1"/>
<rect x="124.88" y="615.15" width="19.62" height="10.04" fill="#8780c2"/>
<rect x="144.10" y="615.15" width="19.62" height="10.04" fill="#8780c2"/>
<rect x="163.32" y="615.15" width="19.62" height="10.04" fill="#6556a6"/>
<rect x="182.54" y="615.15" width="19.62" height="10.04" fill="#d5d8f2"/>
<rect x="201.76" y="615.15" width="19.62" height="10.04" fill="#6556a6"/>
<rect x="220.98" y="615.15" width="19.62" height="10.04" fill="#8780c2"/>
<rect x="240.20" y="615.15" width="19.62" height="10.04" fill="#3b2281"/>
<rect x="259.42" y="615.15" width="19.62" height="10.04" fill="#6556a6"/>
<rect x="278.64" y="615.15" width="19.62" height="10.04" fill="#f29996"/>
<rect x="297.86" y="615.15" width="19.62" height="10.04" fill="#b5b6e1"/>
<rect x="317.08" y="615.15" width="19.62" height="10.04" fill="#b5b6e1"/>
<rect x="336.30" y="615.15" width="19.62" height="10.04" fill="#e21610"/>
<rect x="355.52" y="615.15" width="19.62" height="10.04" fill="#59489c"/>
<rect x="374.74" y="615.15" width="19.62" height="10.04" fill="#3b2281"/>
<rect x="393.96" y="615.15" width="19.62" height="10.04" fill="#3b2281"/>
<rect x="413.18" y="615.15" width="19.22" height="10.04" fill="#b5b6e1"/>
<rect x="48.00" y="624.79" width="19.62" height="10.04" fill="#3b2281"/>
<rect x="67.22" y="624.79" width="19.62" height="10.04" fill="#3b2281"/>
<rect x="86.44" y="624.79" width="19.62" height="10.04" fill="#3b2281"/>
<rect x="105.66" y="624.79" width="19.62" height="10.04" fill="#abaadb"/>
<rect x="124.88" y="624.79" width="19.62" height="10.04" fill="#9c99d1"/>
<rect x="144.10" y="624.79" width="19.62" height="10.04" fill="#442d89"/>
<rect x="163.32" y="624.79" width="19.62" height="10.04" fill="#6556a6"/>
<rect x="182.54" y="624.79" width="19.62" height="10.04" fill="#3b2281"/>
<rect x="201.76" y="624.79" width="19.62" height="10.04" fill="#abaadb"/>
<rect x="220.98" y="624.79" width="19.62" height="10.04" fill="#b5b6e1"/>
<rect x="240.20" y="624.79" width="19.62" height="10.04" fill="#8780c2"/>
<rect x="259.42" y="624.79" width="19.62" height="10.04" fill="#59489c"/>
<rect x="278.64" y="624.79" width="19.62" height="10.04" fill="#abaadb"/>
<rect x="297.86" y="624.79" width="19.62" height="10.04" fill="#e21610"/>
<rect x="317.08" y="624.79" width="19.62" height="10.04" fill="#e21610"/>
<rect x="336.30" y="624.79" width="19.62" height="10.04" fill="#e6332e"/>
<rect x="355.52" y="624.79" width="19.62" height="10.04" fill="#f08986"/>
<rect x="374.74" y="624.79" width="19.62" height="10.04" fill="#eb5c58"/>
<rect x="393.96" y="624.79" width="19.62" height="10.04" fill="#c5c8ea"/>
<rect x="413.18" y="624.79" width="19.22" height="10.04" fill="#fce5e4"/>
<rect x="48.00" y="634.43" width="19.62" height="10.04" fill="#3b2281"/>
<rect x="67.22" y="634.43" width="19.62" height="10.04" fill="#3b2281"/>
<rect x="86.44" y="634.43" width="19.62" height="10.04" fill="#3b2281"/>
<rect x="105.66" y="634.43" width="19.62" height="10.04" fill="#f29996"/>
<rect x="124.88" y="634.43" width="19.62" height="10.04" fill="#cfd3ef"/>
<rect x="144.10" y="634.43" width="19.62" height="10.04" fill="#3b2281"/>
<rect x="163.32" y="634.43" width="19.62" height="10.04" fill="#6556a6"/>
<rect x="182.54" y="634.43" width="19.62" height="10.04" fill="#3b2281"/>
<rect x="201.76" y="634.43" width="19.62" height="10.04" fill="#abaadb"/>
<rect x="220.98" y="634.43" width="19.62" height="10.04" fill="#b5b6e1"/>
<rect x="240.20" y="634.43" width="19.62" height="10.04" fill="#8780c2"/>
<rect x="259.42" y="634.43" width="19.62" height="10.04" fill="#3b2281"/>
<rect x="278.64" y="634.43" width="19.62" height="10.04" fill="#f29996"/>
<rect x="297.86" y="634.43" width="19.62" height="10.04" fill="#f29996"/>
<rect x="317.08" y="634.43" width="19.62" height="10.04" fill="#e21610"/>
<rect x="336.30" y="634.43" width="19.62" height="10.04" fill="#fce5e4"/>
<rect x="355.52" y="634.43" width="19.62" height="10.04" fill="#fce5e4"/>
<rect x="374.74" y="634.43" width="19.62" height="10.04" fill="#fad5d4"/>
<rect x="393.96" y="634.43" width="19.62" height="10.04" fill="#fad5d4"/>
<rect x="413.18" y="634.43" width="19.22" height="10.04" fill="#f29996"/>
<rect x="48.00" y="644.08" width="19.62" height="10.04" fill="#3b2281"/>
<rect x="67.22" y="644.08" width="19.62" height="10.04" fill="#3b2281"/>
<rect x="86.44" y="644.08" width="19.62" height="10.04" fill="#3b2281"/>
<rect x="105.66" y="644.08" width="19.62" height="10.04" fill="#513e95"/>
<rect x="124.88" y="644.08" width="19.62" height="10.04" fill="#3b2281"/>
<rect x="144.10" y="644.08" width="19.62" height="10.04" fill="#3b2281"/>
<rect x="163.32" y="644.08" width="19.62" height="10.04" fill="#3b2281"/>
<rect x="182.54" y="644.08" width="19.62" height="10.04" fill="#3b2281"/>
<rect x="201.76" y="644.08" width="19.62" height="10.04" fill="#3b2281"/>
<rect x="220.98" y="644.08" width="19.62" height="10.04" fill="#59489c"/>
<rect x="240.20" y="644.08" width="19.62" height="10.04" fill="#3b2281"/>
<rect x="259.42" y="644.08" width="19.62" height="10.04" fill="#3b2281"/>
<rect x="278.64" y="644.08" width="19.62" height="10.04" fill="#6556a6"/>
<rect x="297.86" y="644.08" width="19.62" height="10.04" fill="#8780c2"/>
<rect x="317.08" y="644.08" width="19.62" height="10.04" fill="#e21610"/>
<rect x="336.30" y="644.08" width="19.62" height="10.04" fill="#e21610"/>
<rect x="355.52" y="644.08" width="19.62" height="10.04" fill="#f4a3a1"/>
<rect x="374.74" y="644.08" width="19.62" height="10.04" fill="#fdefef"/>
<rect x="393.96" y="644.08" width="19.62" height="10.04" fill="#3b2281"/>
<rect x="413.18" y="644.08" width="19.22" height="10.04" fill="#9c99d1"/>
<rect x="48.00" y="653.72" width="19.62" height="10.04" fill="#3b2281"/>
<rect x="67.22" y="653.72" width="19.62" height="10.04" fill="#3b2281"/>
<rect x="86.44" y="653.72" width="19.62" height="10.04" fill="#3b2281"/>
<rect x="105.66" y="653.72" width="19.62" height="10.04" fill="#3b2281"/>
<rect x="124.88" y="653.72" width="19.62" height="10.04" fill="#3b2281"/>
<rect x="144.10" y="653.72" width="19.62" height="10.04" fill="#3b2281"/>
<rect x="163.32" y="653.72" width="19.62" height="10.04" fill="#3b2281"/>
<rect x="182.54" y="653.72" width="19.62" height="10.04" fill="#3b2281"/>
<rect x="201.76" y="653.72" width="19.62" height="10.04" fill="#3b2281"/>
<rect x="220.98" y="653.72" width="19.62" height="10.04" fill="#3b2281"/>
<rect x="240.20" y="653.72" width="19.62" height="10.04" fill="#3b2281"/>
<rect x="259.42" y="653.72" width="19.62" height="10.04" fill="#3b2281"/>
<rect x="278.64" y="653.72" width="19.62" height="10.04" fill="#3b2281"/>
<rect x="297.86" y="653.72" width="19.62" height="10.04" fill="#3b2281"/>
<rect x="317.08" y="653.72" width="19.62" height="10.04" fill="#3b2281"/>
<rect x="336.30" y="653.72" width="19.62" height="10.04" fill="#3b2281"/>
<rect x="355.52" y="653.72" width="19.62" height="10.04" fill="#3b2281"/>
<rect x="374.74" y="653.72" width="19.62" height="10.04" fill="#3b2281"/>
<rect x="393.96" y="653.72" width="19.62" height="10.04" fill="#6556a6"/>
<rect x="413.18" y="653.72" width="19.22" height="10.04" fill="#e21610"/>
<rect x="48.00" y="663.36" width="19.62" height="9.64" fill="#fef5f4"/>
<rect x="67.22" y="663.36" width="19.62" height="9.64" fill="#9c99d1"/>
<rect x="86.44" y="663.36" width="19.62" height="9.64" fill="#6556a6"/>
<rect x="105.66" y="663.36" width="19.62" height="9.64" fill="#d5d8f2"/>
<rect x="124.88" y="663.36" width="19.62" height="9.64" fill="#ef7f7c"/>
<rect x="144.10" y="663.36" width="19.62" height="9.64" fill="#c5c8ea"/>
<rect x="163.32" y="663.36" width="19.62" height="9.64" fill="#ffffff"/>
<rect x="182.54" y="663.36" width="19.62" height="9.64" fill="#ef7f7c"/>
<rect x="201.76" y="663.36" width="19.62" height="9.64" fill="#b5b6e1"/>
<rect x="220.98" y="663.36" width="19.62" height="9.64" fill="#e21610"/>
<rect x="240.20" y="663.36" width="19.62" height="9.64" fill="#eb5c58"/>
<rect x="259.42" y="663.36" width="19.62" height="9.64" fill="#b5b6e1"/>
<rect x="278.64" y="663.36" width="19.62" height="9.64" fill="#eb5c58"/>
<rect x="297.86" y="663.36" width="19.62" height="9.64" fill="#6556a6"/>
<rect x="317.08" y="663.36" width="19.62" height="9.64" fill="#3b2281"/>
<rect x="336.30" y="663.36" width="19.62" height="9.64" fill="#442d89"/>
<rect x="355.52" y="663.36" width="19.62" height="9.64" fill="#442d89"/>
<rect x="374.74" y="663.36" width="19.62" height="9.64" fill="#3b2281"/>
<rect x="393.96" y="663.36" width="19.62" height="9.64" fill="#abaadb"/>
<rect x="413.18" y="663.36" width="19.22" height="9.64" fill="#442d89"/>
<rect x="48.00" y="682.65" width="19.62" height="10.04" fill="#3b2281"/>
<rect x="67.22" y="682.65" width="19.62" height="10.04" fill="#3b2281"/>
<rect x="86.44" y="682.65" width="19.62" height="10.04" fill="#513e95"/>
<rect x="105.66" y="682.65" width="19.62" height="10.04" fill="#e21610"/>
<rect x="124.88" y="682.65" width="19.62" height="10.04" fill="#8780c2"/>
<rect x="144.10" y="682.65" width="19.62" height="10.04" fill="#3b2281"/>
<rect x="163.32" y="682.65" width="19.62" height="10.04" fill="#9c99d1"/>
<rect x="182.54" y="682.65" width="19.62" height="10.04" fill="#e21610"/>
<rect x="201.76" y="682.65" width="19.62" height="10.04" fill="#7267b2"/>
<rect x="220.98" y="682.65" width="19.62" height="10.04" fill="#7267b2"/>
<rect x="240.20" y="682.65" width="19.62" height="10.04" fill="#3b2281"/>
<rect x="259.42" y="682.65" width="19.62" height="10.04" fill="#f7bcba"/>
<rect x="278.64" y="682.65" width="19.62" height="10.04" fill="#f7bcba"/>
<rect x="297.86" y="682.65" width="19.62" height="10.04" fill="#3b2281"/>
<rect x="317.08" y="682.65" width="19.62" height="10.04" fill="#49348e"/>
<rect x="336.30" y="682.65" width="19.62" height="10.04" fill="#e21610"/>
<rect x="355.52" y="682.65" width="19.62" height="10.04" fill="#f7bcba"/>
<rect x="374.74" y="682.65" width="19.62" height="10.04" fill="#e21610"/>
<rect x="393.96" y="682.65" width="19.62" height="10.04" fill="#e21610"/>
<rect x="413.18" y="682.65" width="19.22" height="10.04" fill="#e3221c"/>
<rect x="48.00" y="692.29" width="19.62" height="10.04" fill="#3b2281"/>
<rect x="67.22" y="692.29" width="19.62" height="10.04" fill="#3b2281"/>
<rect x="86.44" y="692.29" width="19.62" height="10.04" fill="#3b2281"/>
<rect x="105.66" y="692.29" width="19.62" height="10.04" fill="#fce5e4"/>
<rect x="124.88" y="692.29" width="19.62" height="10.04" fill="#8780c2"/>
<rect x="144.10" y="692.29" width="19.62" height="10.04" fill="#513e95"/>
<rect x="163.32" y="692.29" width="19.62" height="10.04" fill="#442d89"/>
<rect x="182.54" y="692.29" width="19.62" height="10.04" fill="#3b2281"/>
<rect x="201.76" y="692.29" width="19.62" height="10.04" fill="#b5b6e1"/>
<rect x="220.98" y="692.29" width="19.62" height="10.04" fill="#7267b2"/>
<rect x="240.20" y="692.29" width="19.62" height="10.04" fill="#513e95"/>
<rect x="259.42" y="692.29" width="19.62" height="10.04" fill="#ffffff"/>
<rect x="278.64" y="692.29" width="19.62" height="10.04" fill="#6556a6"/>
<rect x="297.86" y="692.29" width="19.62" height="10.04" fill="#e21610"/>
<rect x="317.08" y="692.29" width="19.62" height="10.04" fill="#e21610"/>
<rect x="336.30" y="692.29" width="19.62" height="10.04" fill="#ffffff"/>
<rect x="355.52" y="692.29" width="19.62" height="10.04" fill="#e21610"/>
<rect x="374.74" y="692.29" width="19.62" height="10.04" fill="#6556a6"/>
<rect x="393.96" y="692.29" width="19.62" height="10.04" fill="#abaadb"/>
<rect x="413.18" y="692.29" width="19.22" height="10.04" fill="#f4a3a1"/>
<rect x="48.00" y="701.93" width="19.62" height="10.04" fill="#3b2281"/>
<rect x="67.22" y="701.93" width="19.62" height="10.04" fill="#3b2281"/>
<rect x="86.44" y="701.93" width="19.62" height="10.04" fill="#3b2281"/>
<rect x="105.66" y="701.93" width="19.62" height="10.04" fill="#ef7f7c"/>
<rect x="124.88" y="701.93" width="19.62" height="10.04" fill="#8780c2"/>
<rect x="144.10" y="701.93" width="19.62" height="10.04" fill="#3b2281"/>
<rect x="163.32" y="701.93" width="19.62" height="10.04" fill="#513e95"/>
<rect x="182.54" y="701.93" width="19.62" height="10.04" fill="#3b2281"/>
<rect x="201.76" y="701.93" width="19.62" height="10.04" fill="#8780c2"/>
<rect x="220.98" y="701.93" width="19.62" height="10.04" fill="#abaadb"/>
<rect x="240.20" y="701.93" width="19.62" height="10.04" fill="#513e95"/>
<rect x="259.42" y="701.93" width="19.62" height="10.04" fill="#8780c2"/>
<rect x="278.64" y="701.93" width="19.62" height="10.04" fill="#e21610"/>
<rect x="297.86" y="701.93" width="19.62" height="10.04" fill="#abaadb"/>
<rect x="317.08" y="701.93" width="19.62" height="10.04" fill="#ebeefb"/>
<rect x="336.30" y="701.93" width="19.62" height="10.04" fill="#ffffff"/>
<rect x="355.52" y="701.93" width="19.62" height="10.04" fill="#3b2281"/>
<rect x="374.74" y="701.93" width="19.62" height="10.04" fill="#3b2281"/>
<rect x="393.96" y="701.93" width="19.62" height="10.04" fill="#8780c2"/>
<rect x="413.18" y="701.93" width="19.22" height="10.04" fill="#fdefef"/>
<rect x="48.00" y="711.58" width="19.62" height="10.04" fill="#3b2281"/>
<rect x="67.22" y="711.58" width="19.62" height="10.04" fill="#3b2281"/>
<rect x="86.44" y="711.58" width="19.62" height="10.04" fill="#3b2281"/>
<rect x="105.66" y="711.58" width="19.62" height="10.04" fill="#f4a3a1"/>
<rect x="124.88" y="711.58" width="19.62" height="10.04" fill="#d5d8f2"/>
<rect x="144.10" y="711.58" width="19.62" height="10.04" fill="#3b2281"/>
<rect x="163.32" y="711.58" width="19.62" height="10.04" fill="#3b2281"/>
<rect x="182.54" y="711.58" width="19.62" height="10.04" fill="#3b2281"/>
<rect x="201.76" y="711.58" width="19.62" height="10.04" fill="#442d89"/>
<rect x="220.98" y="711.58" width="19.62" height="10.04" fill="#3e2684"/>
<rect x="240.20" y="711.58" width="19.62" height="10.04" fill="#3b2281"/>
<rect x="259.42" y="711.58" width="19.62" height="10.04" fill="#3b2281"/>
<rect x="278.64" y="711.58" width="19.62" height="10.04" fill="#3b2281"/>
<rect x="297.86" y="711.58" width="19.62" height="10.04" fill="#3b2281"/>
<rect x="317.08" y="711.58" width="19.62" height="10.04" fill="#3b2281"/>
<rect x="336.30" y="711.58" width="19.62" height="10.04" fill="#f4a3a1"/>
<rect x="355.52" y="711.58" width="19.62" height="10.04" fill="#e21610"/>
<rect x="374.74" y="711.58" width="19.62" height="10.04" fill="#3b2281"/>
<rect x="393.96" y="711.58" width="19.62" height="10.04" fill="#3b2281"/>
<rect x="413.18" y="711.58" width="19.22" height="10.04" fill="#f08986"/>
<rect x="48.00" y="721.22" width="19.62" height="10.04" fill="#3b2281"/>
<rect x="67.22" y="721.22" width="19.62" height="10.04" fill="#3b2281"/>
<rect x="86.44" y="721.22" width="19.62" height="10.04" fill="#3b2281"/>
<rect x="105.66" y="721.22" width="19.62" height="10.04" fill="#fdefef"/>
<rect x="124.88" y="721.22" width="19.62" height="10.04" fill="#9c99d1"/>
<rect x="144.10" y="721.22" width="19.62" height="10.04" fill="#3b2281"/>
<rect x="163.32" y="721.22" width="19.62" height="10.04" fill="#f5b2b0"/>
<rect x="182.54" y="721.22" width="19.62" height="10.04" fill="#6556a6"/>
<rect x="201.76" y="721.22" width="19.62" height="10.04" fill="#8780c2"/>
<rect x="220.98" y="721.22" width="19.62" height="10.04" fill="#8780c2"/>
<rect x="240.20" y="721.22" width="19.62" height="10.04" fill="#6556a6"/>
<rect x="259.42" y="721.22" width="19.62" height="10.04" fill="#3b2281"/>
<rect x="278.64" y="721.22" width="19.62" height="10.04" fill="#3b2281"/>
<rect x="297.86" y="721.22" width="19.62" height="10.04" fill="#fad5d4"/>
<rect x="317.08" y="721.22" width="19.62" height="10.04" fill="#f7bcba"/>
<rect x="336.30" y="721.22" width="19.62" height="10.04" fill="#f4a3a1"/>
<rect x="355.52" y="721.22" width="19.62" height="10.04" fill="#cfd3ef"/>
<rect x="374.74" y="721.22" width="19.62" height="10.04" fill="#e0e3f7"/>
<rect x="393.96" y="721.22" width="19.62" height="10.04" fill="#e21610"/>
<rect x="413.18" y="721.22" width="19.22" height="10.04" fill="#3b2281"/>
<rect x="48.00" y="730.86" width="19.62" height="10.04" fill="#3b2281"/>
<rect x="67.22" y="730.86" width="19.62" height="10.04" fill="#3b2281"/>
<rect x="86.44" y="730.86" width="19.62" height="10.04" fill="#3b2281"/>
<rect x="105.66" y="730.86" width="19.62" height="10.04" fill="#e21610"/>
<rect x="124.88" y="730.86" width="19.62" height="10.04" fill="#9c99d1"/>
<rect x="144.10" y="730.86" width="19.62" height="10.04" fill="#3b2281"/>
<rect x="163.32" y="730.86" width="19.62" height="10.04" fill="#3b2281"/>
<rect x="182.54" y="730.86" width="19.62" height="10.04" fill="#e21610"/>
<rect x="201.76" y="730.86" width="19.62" height="10.04" fill="#9c99d1"/>
<rect x="220.98" y="730.86" width="19.62" height="10.04" fill="#6556a6"/>
<rect x="240.20" y="730.86" width="19.62" height="10.04" fill="#6556a6"/>
<rect x="259.42" y="730.86" width="19.62" height="10.04" fill="#513e95"/>
<rect x="278.64" y="730.86" width="19.62" height="10.04" fill="#3b2281"/>
<rect x="297.86" y="730.86" width="19.62" height="10.04" fill="#b5b6e1"/>
<rect x="317.08" y="730.86" width="19.62" height="10.04" fill="#3b2281"/>
<rect x="336.30" y="730.86" width="19.62" height="10.04" fill="#3b2281"/>
<rect x="355.52" y="730.86" width="19.62" height="10.04" fill="#3b2281"/>
<rect x="374.74" y="730.86" width="19.62" height="10.04" fill="#3b2281"/>
<rect x="393.96" y="730.86" width="19.62" height="10.04" fill="#e21610"/>
<rect x="413.18" y="730.86" width="19.22" height="10.04" fill="#3b2281"/>
<rect x="48.00" y="740.51" width="19.62" height="10.04" fill="#3b2281"/>
<rect x="67.22" y="740.51" width="19.62" height="10.04" fill="#3b2281"/>
<rect x="86.44" y="740.51" width="19.62" height="10.04" fill="#3b2281"/>
<rect x="105.66" y="740.51" width="19.62" height="10.04" fill="#442d89"/>
<rect x="124.88" y="740.51" width="19.62" height="10.04" fill="#cfd3ef"/>
<rect x="144.10" y="740.51" width="19.62" height="10.04" fill="#3b2281"/>
<rect x="163.32" y="740.51" width="19.62" height="10.04" fill="#3b2281"/>
<rect x="182.54" y="740.51" width="19.62" height="10.04" fill="#442d89"/>
<rect x="201.76" y="740.51" width="19.62" height="10.04" fill="#e6332e"/>
<rect x="220.98" y="740.51" width="19.62" height="10.04" fill="#e6332e"/>
<rect x="240.20" y="740.51" width="19.62" height="10.04" fill="#3b2281"/>
<rect x="259.42" y="740.51" width="19.62" height="10.04" fill="#c5c8ea"/>
<rect x="278.64" y="740.51" width="19.62" height="10.04" fill="#e21610"/>
<rect x="297.86" y="740.51" width="19.62" height="10.04" fill="#513e95"/>
<rect x="317.08" y="740.51" width="19.62" height="10.04" fill="#3b2281"/>
<rect x="336.30" y="740.51" width="19.62" height="10.04" fill="#ffffff"/>
<rect x="355.52" y="740.51" width="19.62" height="10.04" fill="#3b2281"/>
<rect x="374.74" y="740.51" width="19.62" height="10.04" fill="#3b2281"/>
<rect x="393.96" y="740.51" width="19.62" height="10.04" fill="#ffffff"/>
<rect x="413.18" y="740.51" width="19.22" height="10.04" fill="#8780c2"/>
<rect x="48.00" y="750.15" width="19.62" height="10.04" fill="#ef7f7c"/>
<rect x="67.22" y="750.15" width="19.62" height="10.04" fill="#442d89"/>
<rect x="86.44" y="750.15" width="19.62" height="10.04" fill="#3b2281"/>
<rect x="105.66" y="750.15" width="19.62" height="10.04" fill="#b5b6e1"/>
<rect x="124.88" y="750.15" width="19.62" height="10.04" fill="#442d89"/>
<rect x="144.10" y="750.15" width="19.62" height="10.04" fill="#ffffff"/>
<rect x="163.32" y="750.15" width="19.62" height="10.04" fill="#3b2281"/>
<rect x="182.54" y="750.15" width="19.62" height="10.04" fill="#f5b2b0"/>
<rect x="201.76" y="750.15" width="19.62" height="10.04" fill="#ef7f7c"/>
<rect x="220.98" y="750.15" width="19.62" height="10.04" fill="#ffffff"/>
<rect x="240.20" y="750.15" width="19.62" height="10.04" fill="#e21610"/>
<rect x="259.42" y="750.15" width="19.62" height="10.04" fill="#e21610"/>
<rect x="278.64" y="750.15" width="19.62" height="10.04" fill="#3b2281"/>
<rect x="297.86" y="750.15" width="19.62" height="10.04" fill="#3b2281"/>
<rect x="317.08" y="750.15" width="19.62" height="10.04" fill="#3b2281"/>
<rect x="336.30" y="750.15" width="19.62" height="10.04" fill="#3b2281"/>
<rect x="355.52" y="750.15" width="19.62" height="10.04" fill="#3b2281"/>
<rect x="374.74" y="750.15" width="19.62" height="10.04" fill="#3b2281"/>
<rect x="393.96" y="750.15" width="19.62" height="10.04" fill="#3b2281"/>
<rect x="413.18" y="750.15" width="19.22" height="10.04" fill="#abaadb"/>
<rect x="48.00" y="759.79" width="19.62" height="10.04" fill="#c5c8ea"/>
<rect x="67.22" y="759.79" width="19.62" height="10.04" fill="#f7bcba"/>
<rect x="86.44" y="759.79" width="19.62" height="10.04" fill="#e6332e"/>
<rect x="105.66" y="759.79" width="19.62" height="10.04" fill="#e21610"/>
<rect x="124.88" y="759.79" width="19.62" height="10.04" fill="#f5b2b0"/>
<rect x="144.10" y="759.79" width="19.62" height="10.04" fill="#8780c2"/>
<rect x="163.32" y="759.79" width="19.62" height="10.04" fill="#f8cbc9"/>
<rect x="182.54" y="759.79" width="19.62" height="10.04" fill="#b5b6e1"/>
<rect x="201.76" y="759.79" width="19.62" height="10.04" fill="#3b2281"/>
<rect x="220.98" y="759.79" width="19.62" height="10.04" fill="#b5b6e1"/>
<rect x="240.20" y="759.79" width="19.62" height="10.04" fill="#fdefef"/>
<rect x="259.42" y="759.79" width="19.62" height="10.04" fill="#ffffff"/>
<rect x="278.64" y="759.79" width="19.62" height="10.04" fill="#e21610"/>
<rect x="297.86" y="759.79" width="19.62" height="10.04" fill="#3b2281"/>
<rect x="317.08" y="759.79" width="19.62" height="10.04" fill="#3b2281"/>
<rect x="336.30" y="759.79" width="19.62" height="10.04" fill="#6556a6"/>
<rect x="355.52" y="759.79" width="19.62" height="10.04" fill="#3b2281"/>
<rect x="374.74" y="759.79" width="19.62" height="10.04" fill="#3b2281"/>
<rect x="393.96" y="759.79" width="19.62" height="10.04" fill="#f8cbc9"/>
<rect x="413.18" y="759.79" width="19.22" height="10.04" fill="#e0e3f7"/>
<rect x="48.00" y="769.44" width="19.62" height="10.04" fill="#442d89"/>
<rect x="67.22" y="769.44" width="19.62" height="10.04" fill="#442d89"/>
<rect x="86.44" y="769.44" width="19.62" height="10.04" fill="#9c99d1"/>
<rect x="105.66" y="769.44" width="19.62" height="10.04" fill="#c5c8ea"/>
<rect x="124.88" y="769.44" width="19.62" height="10.04" fill="#6556a6"/>
<rect x="144.10" y="769.44" width="19.62" height="10.04" fill="#e21610"/>
<rect x="163.32" y="769.44" width="19.62" height="10.04" fill="#9c99d1"/>
<rect x="182.54" y="769.44" width="19.62" height="10.04" fill="#9c99d1"/>
<rect x="201.76" y="769.44" width="19.62" height="10.04" fill="#7267b2"/>
<rect x="220.98" y="769.44" width="19.62" height="10.04" fill="#513e95"/>
<rect x="240.20" y="769.44" width="19.62" height="10.04" fill="#3b2281"/>
<rect x="259.42" y="769.44" width="19.62" height="10.04" fill="#8780c2"/>
<rect x="278.64" y="769.44" width="19.62" height="10.04" fill="#3b2281"/>
<rect x="297.86" y="769.44" width="19.62" height="10.04" fill="#3b2281"/>
<rect x="317.08" y="769.44" width="19.62" height="10.04" fill="#6556a6"/>
<rect x="336.30" y="769.44" width="19.62" height="10.04" fill="#f08986"/>
<rect x="355.52" y="769.44" width="19.62" height="10.04" fill="#513e95"/>
<rect x="374.74" y="769.44" width="19.62" height="10.04" fill="#3b2281"/>
<rect x="393.96" y="769.44" width="19.62" height="10.04" fill="#513e95"/>
<rect x="413.18" y="769.44" width="19.22" height="10.04" fill="#6556a6"/>
<rect x="48.00" y="779.08" width="19.62" height="9.64" fill="#f8cbc9"/>
<rect x="67.22" y="779.08" width="19.62" height="9.64" fill="#c5c8ea"/>
<rect x="86.44" y="779.08" width="19.62" height="9.64" fill="#ef7f7c"/>
<rect x="105.66" y="779.08" width="19.62" height="9.64" fill="#59489c"/>
<rect x="124.88" y="779.08" width="19.62" height="9.64" fill="#8780c2"/>
<rect x="144.10" y="779.08" width="19.62" height="9.64" fill="#f7bcba"/>
<rect x="163.32" y="779.08" width="19.62" height="9.64" fill="#fce5e4"/>
<rect x="182.54" y="779.08" width="19.62" height="9.64" fill="#e21610"/>
<rect x="201.76" y="779.08" width="19.62" height="9.64" fill="#8780c2"/>
<rect x="220.98" y="779.08" width="19.62" height="9.64" fill="#6556a6"/>
<rect x="240.20" y="779.08" width="19.62" height="9.64" fill="#ffffff"/>
<rect x="259.42" y="779.08" width="19.62" height="9.64" fill="#6556a6"/>
<rect x="278.64" y="779.08" width="19.62" height="9.64" fill="#7267b2"/>
<rect x="297.86" y="779.08" width="19.62" height="9.64" fill="#3b2281"/>
<rect x="317.08" y="779.08" width="19.62" height="9.64" fill="#3b2281"/>
<rect x="336.30" y="779.08" width="19.62" height="9.64" fill="#3b2281"/>
<rect x="355.52" y="779.08" width="19.62" height="9.64" fill="#3b2281"/>
<rect x="374.74" y="779.08" width="19.62" height="9.64" fill="#3b2281"/>
<rect x="393.96" y="779.08" width="19.62" height="9.64" fill="#49348e"/>
<rect x="413.18" y="779.08" width="19.22" height="9.64" fill="#3e2684"/>
</g>
<rect x="28.2" y="335.50" width="16.7" height="67.50" fill="#121212"/>
<text transform="translate(40.4,369.25) rotate(-90)" font-size="11.2" text-anchor="middle" fill="#fff">Memory</text>
<text x="436" y="343.62" font-size="9.3" fill="#000">Sell</text>
<text x="436" y="353.26" font-size="9.3" fill="#000">Foxo1</text>
<text x="436" y="362.91" font-size="9.3" fill="#000">Bach2</text>
<text x="436" y="372.55" font-size="9.3" fill="#000">Tcf7</text>
<text x="436" y="382.19" font-size="9.3" fill="#000">Itgae</text>
<text x="436" y="391.84" font-size="9.3" fill="#000">Ccr7</text>
<text x="436" y="401.48" font-size="9.3" fill="#000">Il7r</text>
<rect x="28.2" y="412.64" width="16.7" height="115.72" fill="#121212"/>
<text transform="translate(40.4,470.50) rotate(-90)" font-size="11.2" text-anchor="middle" fill="#fff">CD8 Effector</text>
<text x="436" y="420.77" font-size="9.3" fill="#000">Il18r1</text>
<text x="436" y="430.41" font-size="9.3" fill="#000">Il18rap</text>
<text x="436" y="440.05" font-size="9.3" fill="#000">CD28</text>
<text x="436" y="449.69" font-size="9.3" fill="#000">Cd44</text>
<text x="436" y="459.34" font-size="9.3" fill="#000">Tgfbr2</text>
<text x="436" y="468.98" font-size="9.3" fill="#000">Eomes</text>
<text x="436" y="478.62" font-size="9.3" fill="#000">Klrg1</text>
<text x="436" y="488.27" font-size="9.3" fill="#000">Fasl</text>
<text x="436" y="497.91" font-size="9.3" fill="#000">Tnfrsf4 (Ox40)</text>
<text x="436" y="507.55" font-size="9.3" fill="#000">Tnfrsf9 (4-1BB)</text>
<text x="436" y="517.20" font-size="9.3" fill="#000">Tbx21</text>
<text x="436" y="526.84" font-size="9.3" fill="#000">Id2</text>
<rect x="28.2" y="538.00" width="16.7" height="135.00" fill="#121212"/>
<text transform="translate(40.4,605.50) rotate(-90)" font-size="11.2" text-anchor="middle" fill="#fff">Exhaustion</text>
<text x="436" y="546.12" font-size="9.3" fill="#000">Ctla4</text>
<text x="436" y="555.77" font-size="9.3" fill="#000">Pdcd1</text>
<text x="436" y="565.41" font-size="9.3" fill="#000">Cd244</text>
<text x="436" y="575.05" font-size="9.3" fill="#000">Tnfsf10 (TRAIL)</text>
<text x="436" y="584.70" font-size="9.3" fill="#000">Cd160</text>
<text x="436" y="594.34" font-size="9.3" fill="#000">Tox</text>
<text x="436" y="603.98" font-size="9.3" fill="#000">Lag3</text>
<text x="436" y="613.63" font-size="9.3" fill="#000">Havcr2</text>
<text x="436" y="623.27" font-size="9.3" fill="#000">Nr4a1 (Nur77)</text>
<text x="436" y="632.91" font-size="9.3" fill="#000">Tigit</text>
<text x="436" y="642.55" font-size="9.3" fill="#000">Entpd1 (CD39)</text>
<text x="436" y="652.20" font-size="9.3" fill="#000">Il2rb</text>
<text x="436" y="661.84" font-size="9.3" fill="#000">Sema4c</text>
<text x="436" y="671.48" font-size="9.3" fill="#000">Fas</text>
<rect x="28.2" y="682.65" width="16.7" height="106.07" fill="#121212"/>
<text transform="translate(40.4,735.68) rotate(-90)" font-size="11.2" text-anchor="middle" fill="#fff">Effector Molecules</text>
<text x="436" y="690.77" font-size="9.3" fill="#000">Tgfb1</text>
<text x="436" y="700.41" font-size="9.3" fill="#000">Ifng</text>
<text x="436" y="710.06" font-size="9.3" fill="#000">Gzmb</text>
<text x="436" y="719.70" font-size="9.3" fill="#000">Gzmc</text>
<text x="436" y="729.34" font-size="9.3" fill="#000">Gzmk</text>
<text x="436" y="738.98" font-size="9.3" fill="#000">Gzma</text>
<text x="436" y="748.63" font-size="9.3" fill="#000">Il10</text>
<text x="436" y="758.27" font-size="9.3" fill="#000">Il2</text>
<text x="436" y="767.91" font-size="9.3" fill="#000">Tnf</text>
<text x="436" y="777.56" font-size="9.3" fill="#000">Csf2</text>
<text x="436" y="787.20" font-size="9.3" fill="#000">Gzmm</text>
<rect x="393.96" y="299.7" width="38.44" height="489.02" fill="none" stroke="#111" stroke-width="1.5"/>
<defs><linearGradient id="cb" x1="0" x2="1" y1="0" y2="0"><stop offset="0.000" stop-color="#3b2281"/><stop offset="0.050" stop-color="#422b88"/><stop offset="0.100" stop-color="#4b3790"/><stop offset="0.150" stop-color="#59489c"/><stop offset="0.200" stop-color="#6b5fac"/><stop offset="0.250" stop-color="#8780c2"/><stop offset="0.300" stop-color="#a6a5d8"/><stop offset="0.350" stop-color="#babce4"/><stop offset="0.400" stop-color="#cfd3ef"/><stop offset="0.450" stop-color="#e5e9f9"/><stop offset="0.500" stop-color="#ffffff"/><stop offset="0.550" stop-color="#fceae9"/><stop offset="0.600" stop-color="#fad5d4"/><stop offset="0.650" stop-color="#f7c1bf"/><stop offset="0.700" stop-color="#f5adab"/><stop offset="0.750" stop-color="#f29996"/><stop offset="0.800" stop-color="#f08481"/><stop offset="0.850" stop-color="#ec6a66"/><stop offset="0.900" stop-color="#e94c47"/><stop offset="0.950" stop-color="#e52d28"/><stop offset="1.000" stop-color="#e21610"/></linearGradient></defs>
<rect x="167.2" y="800.5" width="120.6" height="7.4" fill="url(#cb)"/>
<text x="152" y="816.8" font-size="9.2" fill="#222">row min</text>
<text x="271" y="816.8" font-size="9.2" fill="#222">row max</text>
<rect x="0.5" y="0.5" width="519" height="826" fill="none" stroke="#3c3c3c" stroke-width="1"/>
</svg></body></html>
